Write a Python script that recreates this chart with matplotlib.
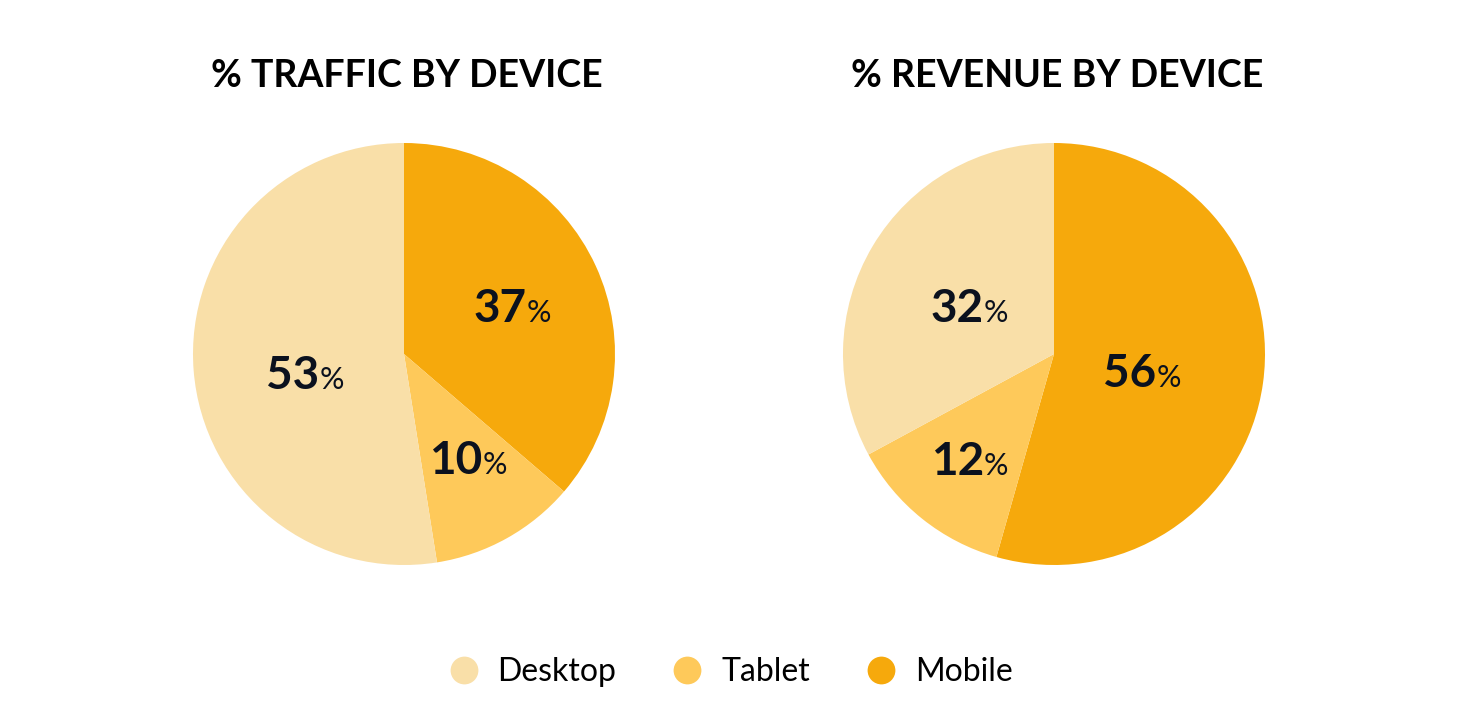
import numpy as np
import matplotlib
matplotlib.use('Agg')
from matplotlib import pyplot as plt
from matplotlib import transforms
from matplotlib.lines import Line2D

plt.rcParams['font.family'] = ['Lato', 'DejaVu Sans']

# data
devices = ['Desktop', 'Tablet', 'Mobile']
traffic = [53, 10, 37]          # printed percentages
revenue = [32, 12, 56]
# slice shares as drawn in the picture (measured from the wedge angles)
traffic_share = [52.5, 11.2, 36.3]
revenue_share = [32.9, 12.7, 54.4]
titles = ['% TRAFFIC BY DEVICE', '% REVENUE BY DEVICE']

colors = {'Desktop': '#F9DFA8', 'Tablet': '#FEC95A', 'Mobile': '#F6A90C'}
ink = '#0B111E'

# pies are drawn clockwise from 12 o'clock: Mobile, Tablet, Desktop
order = ['Mobile', 'Tablet', 'Desktop']
# label placement: (angle nudge in deg, fraction of radius)
label_pos = [
    {'Mobile': (-0.6, 0.57), 'Tablet': (3.3, 0.58), 'Desktop': (6.0, 0.47)},
    {'Mobile': (-2.2, 0.43), 'Tablet': (0.0, 0.63), 'Desktop': (0.5, 0.46)},
]

W, H, DPI = 1459, 709, 100
fig = plt.figure(figsize=(W / DPI, H / DPI), dpi=DPI)
fig.patch.set_facecolor('white')

centers = [(404, 354), (1054, 354)]
R = 211

for i, (vals, shares, title) in enumerate(zip([traffic, revenue],
                                              [traffic_share, revenue_share], titles)):
    cx, cy = centers[i]
    ax = fig.add_axes([(cx - R) / W, (H - cy - R) / H, 2 * R / W, 2 * R / H])
    vmap = dict(zip(devices, vals))
    smap = dict(zip(devices, shares))
    wedges, _ = ax.pie([smap[d] for d in order], colors=[colors[d] for d in order],
                       startangle=90, counterclock=False, radius=1.0,
                       wedgeprops=dict(linewidth=0))
    ax.set_xlim(-1, 1)
    ax.set_ylim(-1, 1)
    ax.set_aspect('equal')
    ax.axis('off')

    for w, d in zip(wedges, order):
        nudge, r = label_pos[i][d]
        ang = np.deg2rad((w.theta1 + w.theta2) / 2 + nudge)
        x, y = r * np.cos(ang), r * np.sin(ang)
        # split point between bold number and small percent sign
        t = transforms.offset_copy(ax.transData, fig=fig, x=13, y=-17, units='dots')
        ax.text(x, y, str(vmap[d]), transform=t, ha='right', va='baseline',
                fontsize=33, fontweight='bold', color=ink)
        ax.text(x, y, '%', transform=t, ha='left', va='baseline',
                fontsize=22, color=ink)

    fig.text((cx + 3) / W, 1 - 76 / H, title, ha='center', va='center',
             fontsize=27, fontweight='bold', color='black')

handles = [Line2D([0], [0], marker='o', linestyle='', markersize=20,
                  markerfacecolor=colors[d], markeredgewidth=0) for d in devices]
fig.legend(handles, devices, loc='center', bbox_to_anchor=(730 / W, 1 - 672 / H),
           ncol=3, frameon=False, fontsize=23, handletextpad=0.56,
           columnspacing=1.72, handlelength=1.0)

fig.savefig('out.png', dpi=DPI, facecolor='white')
